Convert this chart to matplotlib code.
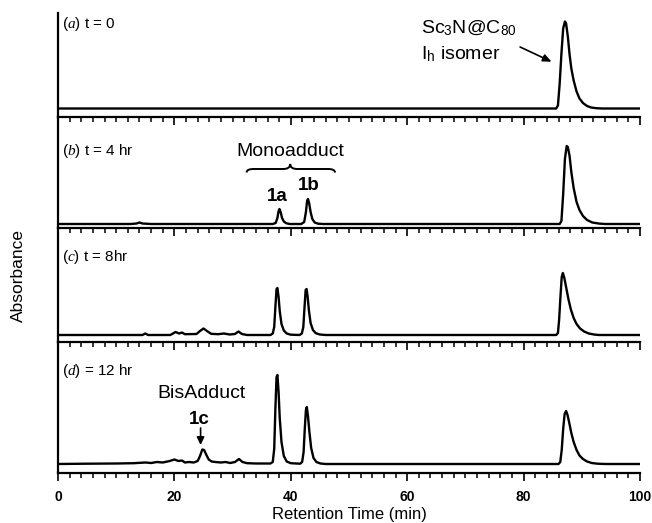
import matplotlib
matplotlib.use("Agg")
import matplotlib.pyplot as plt
from matplotlib.path import Path
from matplotlib.patches import PathPatch
from matplotlib.ticker import MultipleLocator

plt.rcParams['font.family'] = ['Liberation Sans', 'DejaVu Sans']
plt.rcParams['mathtext.fontset'] = 'custom'
plt.rcParams['mathtext.rm'] = 'Liberation Sans'
plt.rcParams['mathtext.it'] = 'Liberation Serif:italic'
plt.rcParams['mathtext.bf'] = 'Liberation Sans:bold'

# ---- data: (retention time [min], absorbance [a.u.]) ----
trace_a = [(0, 0.0), (20, 0.0), (40, 0.0), (60, 0.0), (80, 0.0), (85.6, 0.0), (85.9, 0.03),
           (86.2, 0.25), (86.5, 0.55), (86.8, 0.80), (87.1, 0.87), (87.3, 0.85), (87.6, 0.72),
           (87.9, 0.54), (88.2, 0.40), (88.6, 0.28), (89.1, 0.17), (89.6, 0.10), (90.2, 0.055),
           (90.9, 0.025), (91.6, 0.01), (92.5, 0.003), (93.5, 0.0), (100, 0.0)]

trace_b = [(0, 0.0), (10, 0.0), (12.5, 0.0), (13.5, 0.005), (14.0, 0.015), (14.5, 0.005), (16, 0.0),
           (36.9, 0.0), (37.4, 0.01), (37.7, 0.06), (37.9, 0.13), (38.05, 0.15), (38.25, 0.12),
           (38.5, 0.06), (38.8, 0.025), (39.2, 0.008), (39.8, 0.0),
           (41.8, 0.0), (42.3, 0.02), (42.6, 0.12), (42.8, 0.23), (42.95, 0.25), (43.15, 0.21),
           (43.4, 0.12), (43.7, 0.05), (44.1, 0.015), (44.7, 0.003), (45.5, 0.0),
           (86.2, 0.0), (86.5, 0.03), (86.8, 0.30), (87.1, 0.65), (87.4, 0.78), (87.6, 0.77),
           (87.9, 0.68), (88.2, 0.52), (88.6, 0.36), (89.1, 0.22), (89.6, 0.14), (90.2, 0.08),
           (90.9, 0.04), (91.8, 0.015), (93.0, 0.004), (94.0, 0.0), (100, 0.0)]

trace_c = [(0, 0.0), (10, 0.0), (14.5, 0.0), (15.0, 0.015), (15.5, 0.0), (19.3, 0.0), (20.2, 0.03),
           (20.8, 0.015), (21.3, 0.025), (21.8, 0.008), (23.8, 0.01), (24.4, 0.04), (25.0, 0.065),
           (25.6, 0.04), (26.3, 0.012), (27.5, 0.008), (28.5, 0.015), (29.5, 0.005), (30.4, 0.01),
           (31.0, 0.035), (31.6, 0.01), (32.5, 0.0),
           (36.5, 0.0), (36.9, 0.015), (37.15, 0.08), (37.35, 0.28), (37.55, 0.46), (37.7, 0.47),
           (37.9, 0.38), (38.1, 0.24), (38.4, 0.11), (38.8, 0.045), (39.3, 0.015), (40.0, 0.003),
           (41.5, 0.0), (41.9, 0.015), (42.15, 0.08), (42.35, 0.27), (42.55, 0.45), (42.7, 0.46),
           (42.9, 0.38), (43.1, 0.25), (43.4, 0.12), (43.8, 0.05), (44.3, 0.018), (45.0, 0.005),
           (46.0, 0.0),
           (85.6, 0.0), (85.9, 0.02), (86.1, 0.15), (86.35, 0.40), (86.55, 0.58), (86.75, 0.62),
           (87.0, 0.57), (87.3, 0.48), (87.7, 0.36), (88.1, 0.26), (88.6, 0.17), (89.1, 0.11),
           (89.7, 0.065), (90.4, 0.035), (91.2, 0.015), (92.2, 0.004), (93.0, 0.0), (100, 0.0)]

trace_d = [(0, 0.0), (5, 0.003), (10, 0.005), (13, 0.008), (15, 0.015), (16, 0.01), (17, 0.02),
           (18, 0.015), (19.2, 0.03), (20.0, 0.045), (20.7, 0.03), (21.3, 0.035), (21.8, 0.015),
           (22.5, 0.02), (23.3, 0.015), (24.0, 0.03), (24.4, 0.08), (24.8, 0.145), (25.1, 0.14),
           (25.5, 0.09), (25.9, 0.045), (26.4, 0.025), (27.0, 0.02), (28.0, 0.015), (28.8, 0.02),
           (29.6, 0.01), (30.4, 0.02), (31.1, 0.05), (31.7, 0.02), (32.5, 0.008), (34.0, 0.005),
           (36.5, 0.005), (36.9, 0.02), (37.15, 0.15), (37.35, 0.55), (37.55, 0.87), (37.7, 0.89),
           (37.9, 0.72), (38.1, 0.46), (38.4, 0.22), (38.8, 0.08), (39.3, 0.025), (40.0, 0.008),
           (41.6, 0.003), (41.95, 0.02), (42.2, 0.12), (42.4, 0.35), (42.6, 0.54), (42.75, 0.57),
           (42.95, 0.48), (43.2, 0.32), (43.5, 0.16), (43.9, 0.06), (44.4, 0.02), (45.1, 0.005),
           (46.0, 0.0),
           (86.0, 0.0), (86.3, 0.02), (86.55, 0.14), (86.8, 0.35), (87.05, 0.50), (87.3, 0.53),
           (87.55, 0.49), (87.85, 0.41), (88.2, 0.31), (88.6, 0.22), (89.1, 0.14), (89.6, 0.085),
           (90.2, 0.05), (90.9, 0.025), (91.7, 0.01), (92.7, 0.003), (94.0, 0.0), (100, 0.0)]

traces = [trace_a, trace_b, trace_c, trace_d]
panel_letters = ['a', 'b', 'c', 'd']
panel_texts = [' t = 0', ' t = 4 hr', ' t = 8hr', ' = 12 hr']
x_ticks = [0, 20, 40, 60, 80, 100]
y_limits = [(-0.085, 0.955), (-0.04, 1.07), (-0.07, 1.07), (-0.09, 1.22)]
label_y = [0.845, 0.73, 0.78, 0.93]

fig = plt.figure(figsize=(6.52, 5.23), dpi=100)
gs = fig.add_gridspec(4, 1, height_ratios=[104, 111, 114, 131], hspace=0,
                      left=58 / 652, right=640 / 652, top=1 - 13 / 523, bottom=1 - 473 / 523)
axes = [fig.add_subplot(gs[i]) for i in range(4)]

for i, ax in enumerate(axes):
    xs = [p[0] for p in traces[i]]
    ys = [p[1] for p in traces[i]]
    ax.plot(xs, ys, color='black', lw=1.7, solid_joinstyle='round')
    ax.set_xlim(0, 100)
    ax.set_ylim(*y_limits[i])
    ax.set_yticks([])
    ax.spines['top'].set_visible(False)
    ax.spines['right'].set_visible(False)
    ax.spines['left'].set_linewidth(1.6)
    ax.spines['bottom'].set_linewidth(1.6)
    ax.xaxis.set_major_locator(MultipleLocator(20))
    ax.xaxis.set_minor_locator(MultipleLocator(2))
    ax.tick_params(axis='x', which='major', direction='out', length=6, width=1.2)
    ax.tick_params(axis='x', which='minor', direction='out', length=3.8, width=1.1)
    ax.set_facecolor('none')
    ax.text(0.7, label_y[i], r'($\mathit{' + panel_letters[i] + r'}$)' + panel_texts[i],
            fontsize=11, ha='left', va='center')
    if i < 3:
        ax.tick_params(axis='x', labelbottom=False)
    else:
        ax.set_xticks(x_ticks)
        ax.set_xticklabels([str(t) for t in x_ticks], fontweight='bold', fontsize=10)
        ax.tick_params(axis='x', which='major', pad=6)

# panel (a) annotation
axa = axes[0]
axa.text(62.3, 0.80, r'Sc$_\mathregular{3}$N@C$_\mathregular{80}$', fontsize=14,
         ha='left', va='center')
axa.text(62.3, 0.54, r'I$_\mathregular{h}$ isomer', fontsize=14, ha='left', va='center')
axa.annotate('', xy=(84.8, 0.468), xytext=(79.4, 0.615),
             arrowprops=dict(arrowstyle='-|>,head_length=0.5,head_width=0.22', lw=1.2,
                             color='black', shrinkA=0, shrinkB=0))

# panel (b) annotation
axb = axes[1]
axb.text(40.0, 0.73, 'Monoadduct', fontsize=14, ha='center', va='center')
x0, x1, xm = 32.4, 47.6, 39.9
ye, yl, yt = 0.515, 0.55, 0.60
w = 1.2
verts = [(x0, ye), (x0, yl), (x0 + w, yl), (xm - w, yl), (xm, yl), (xm, yt),
         (xm, yl), (xm + w, yl), (x1 - w, yl), (x1, yl), (x1, ye)]
codes = [Path.MOVETO, Path.CURVE3, Path.CURVE3, Path.LINETO, Path.CURVE3, Path.CURVE3,
         Path.CURVE3, Path.CURVE3, Path.LINETO, Path.CURVE3, Path.CURVE3]
axb.add_patch(PathPatch(Path(verts, codes), fill=False, lw=1.4, color='black'))
axb.text(37.6, 0.275, '1a', fontsize=13.5, fontweight='bold', ha='center', va='center')
axb.text(43.0, 0.38, '1b', fontsize=13.5, fontweight='bold', ha='center', va='center')

# panel (d) annotation
axd = axes[3]
axd.text(24.7, 0.71, 'BisAdduct', fontsize=14, ha='center', va='center')
axd.text(24.3, 0.45, '1c', fontsize=13.5, fontweight='bold', ha='center', va='center')
axd.annotate('', xy=(24.5, 0.19), xytext=(24.5, 0.36),
             arrowprops=dict(arrowstyle='-|>,head_length=0.45,head_width=0.22', lw=1.2,
                             color='black', shrinkA=0, shrinkB=0))

fig.text((58 + 640) / 2 / 652, 1 - 515 / 523, 'Retention Time (min)', fontsize=12,
         ha='center', va='center')
fig.text(18 / 652, 1 - 275 / 523, 'Absorbance', fontsize=12.5, rotation=90,
         ha='center', va='center')

fig.savefig('out.png', dpi=100)
